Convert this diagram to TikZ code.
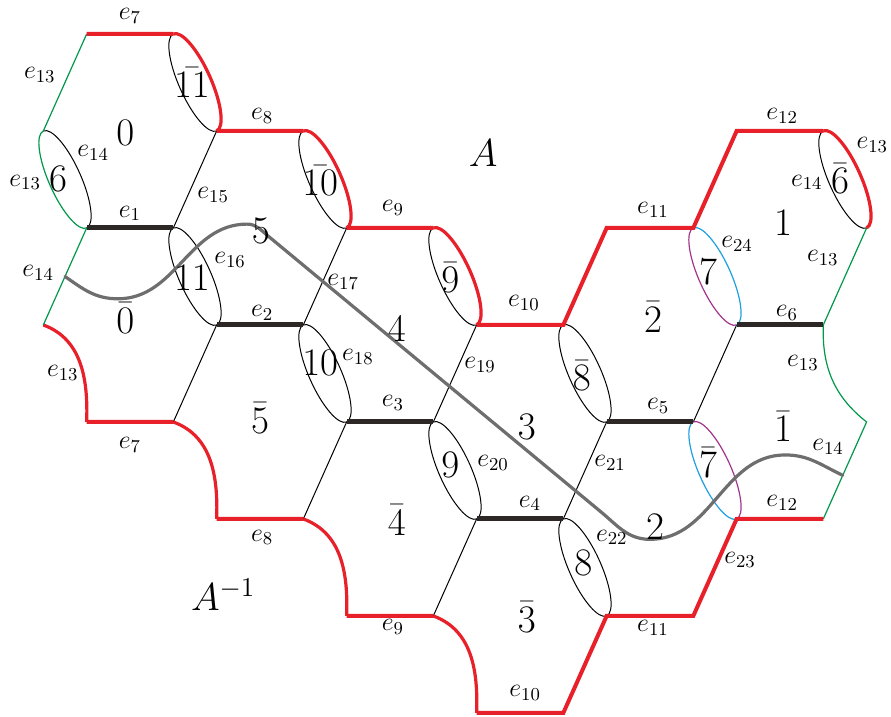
\documentclass[tikz,border=0pt]{standalone}
\usepackage{fix-cm}
\usetikzlibrary{calc}
\definecolor{Rojo}{HTML}{E8202A}
\definecolor{Verde}{HTML}{00984A}
\definecolor{Celeste}{HTML}{1EA0E1}
\definecolor{Morado}{HTML}{A3348C}
\definecolor{Tinta}{HTML}{2D2826}
\definecolor{Gris}{HTML}{6E6E6E}
\newcommand{\loopedge}[4]{%
  \coordinate (lu) at (#1); \coordinate (ll) at (#2);
  \coordinate (lm) at ($(lu)!.5!(ll)$);
  \draw[#3,rotate around={-65.93:(lm)}] (lu) arc[start angle=180,end angle=360,x radius=26.56pt,y radius=8pt];
  \draw[#4,rotate around={-65.93:(lm)}] (lu) arc[start angle=180,end angle=0,x radius=26.56pt,y radius=8pt];}

\begin{document}
\begin{tikzpicture}[x=21.667pt,y=-48.5pt,every node/.style={inner sep=1pt},
  face/.style={font=\fontsize{19.5}{23}\selectfont},
  elab/.style={font=\fontsize{13}{15}\selectfont},
  hair/.style={black,line width=.5pt},
  redline/.style={Rojo,line width=2pt},
  redcurve/.style={Rojo,line width=1.6pt},
  boldline/.style={Tinta,line width=2.5pt},
  greenline/.style={Verde,line width=.6pt},
  blueline/.style={Celeste,line width=.6pt},
  purpleline/.style={Morado,line width=.6pt},
  walk/.style={Gris,line width=1.6pt,line cap=round}]
\useasboundingbox (0,-0.3505) rectangle (20.563,7.0412);

\draw[hair] (5,1)--(4,2) (8,2)--(7,3) (11,3)--(10,4) (14,4)--(13,5) (17,3)--(16,4) (5,3)--(4,4) (8,4)--(7,5) (11,5)--(10,6);

\loopedge{4,0}{5,1}{hair}{redcurve}
\loopedge{1,1}{2,2}{greenline}{hair}
\loopedge{4,2}{5,3}{hair}{hair}
\loopedge{7,1}{8,2}{hair}{redcurve}
\loopedge{7,3}{8,4}{hair}{hair}
\loopedge{10,2}{11,3}{hair}{redcurve}
\loopedge{10,4}{11,5}{hair}{hair}
\loopedge{13,3}{14,4}{hair}{hair}
\loopedge{13,5}{14,6}{hair}{hair}
\loopedge{16,2}{17,3}{purpleline}{blueline}
\loopedge{16,4}{17,5}{blueline}{purpleline}
\loopedge{19,1}{20,2}{hair}{redcurve}

\draw[redcurve] (1,3) to[out=-20,in=88] (2,4) (4,4) to[out=-20,in=88] (5,5) (7,5) to[out=-20,in=88] (8,6) (10,6) to[out=-20,in=88] (11,7);
\draw[greenline] (1,1)--(2,0) (1,3)--(2,2) (20,2)--(19,3) to[out=-92,in=142] (20,4)--(19,5);
\draw[redline] (2,0)--(4,0) (5,1)--(7,1) (8,2)--(10,2) (11,3)--(13,3)--(14,2)--(16,2)--(17,1)--(19,1);
\draw[redline] (2,4)--(4,4) (5,5)--(7,5) (8,6)--(10,6) (11,7)--(13,7)--(14,6)--(16,6)--(17,5)--(19,5);
\draw[boldline] (2,2)--(4,2) (5,3)--(7,3) (8,4)--(10,4) (11,5)--(13,5) (14,4)--(16,4) (17,3)--(19,3);

\draw[walk] ($(1,3)!.5!(2,2)$) to[out=-35,in=180] (2.72,2.73) to[out=0,in=180] (5.70,1.96) to[out=0,in=140.65] (6.185,2.082) -- (13.85,4.92) to[out=-39.35,in=180] (15.0,5.21) to[out=0,in=180] (18.12,4.34) to[out=0,in=155] ($(20,4)!.55!(19,5)$);

\node[face] (n0) at (2.89,1.02) {$0$};
\node[face] (n11b) at (4.43,0.50) {$\bar{11}$};
\node[face] (n6) at (1.34,1.49) {$6$};
\node[face] (n5) at (6.02,2.03) {$5$};
\node[face] (n11) at (4.43,2.51) {$11$};
\node[face] (n0b) at (2.89,2.93) {$\bar{0}$};
\node[face] (n10b) at (7.39,1.51) {$\bar{10}$};
\node[face] (n4) at (9.16,3.04) {$4$};
\node[face] (n9b) at (10.39,2.51) {$\bar{9}$};
\node[face] (n10) at (7.39,3.39) {$10$};
\node[face] (n8b) at (13.43,3.52) {$\bar{8}$};
\node[face] (n3) at (12.16,4.05) {$3$};
\node[face] (n9) at (10.39,4.44) {$9$};
\node[face] (n4b) at (9.16,5.01) {$\bar{4}$};
\node[face] (n8) at (13.46,5.45) {$8$};
\node[face] (n3b) at (12.16,6.01) {$\bar{3}$};
\node[face] (n7b) at (16.34,4.42) {$\bar{7}$};
\node[face] (n1b) at (18.07,4.05) {$\bar{1}$};
\node[face] (n2) at (15.12,5.08) {$2$};
\node[face] (n6b) at (19.39,1.49) {$\bar{6}$};
\node[face] (n1) at (18.07,1.95) {$1$};
\node[face] (n7) at (16.34,2.45) {$7$};
\node[face] (n2b) at (15.07,2.92) {$\bar{2}$};
\node[face] (n5b) at (6.00,3.96) {$\bar{5}$};
\node[face] (nA) at (11.15,1.23) {$A$};
\node[face] (nAi) at (5.15,5.78) {$A^{-1}$};

\node[elab] (l7a) at (3.00,-0.19) {$e_7$};
\node[elab] (l13a) at (0.92,0.42) {$e_{13}$};
\node[elab] (l14a) at (2.15,1.23) {$e_{14}$};
\node[elab] (l13b) at (0.58,1.53) {$e_{13}$};
\node[elab] (l8a) at (6.05,0.84) {$e_8$};
\node[elab] (l15) at (4.92,1.66) {$e_{15}$};
\node[elab] (l1) at (3.00,1.85) {$e_1$};
\node[elab] (l14b) at (0.88,2.46) {$e_{14}$};
\node[elab] (l16) at (5.31,2.33) {$e_{16}$};
\node[elab] (l13c) at (1.45,3.49) {$e_{13}$};
\node[elab] (l2) at (6.05,2.88) {$e_2$};
\node[elab] (l9a) at (9.07,1.79) {$e_9$};
\node[elab] (l17) at (7.92,2.56) {$e_{17}$};
\node[elab] (l10a) at (12.09,2.77) {$e_{10}$};
\node[elab] (l18) at (8.26,3.33) {$e_{18}$};
\node[elab] (l19) at (11.08,3.41) {$e_{19}$};
\node[elab] (l3) at (9.07,3.80) {$e_3$};
\node[elab] (l20) at (11.38,4.42) {$e_{20}$};
\node[elab] (l21) at (14.08,4.42) {$e_{21}$};
\node[elab] (l4) at (12.23,4.84) {$e_4$};
\node[elab] (l22) at (14.12,5.19) {$e_{22}$};
\node[elab] (l9b) at (9.07,6.11) {$e_9$};
\node[elab] (l10b) at (12.12,6.79) {$e_{10}$};
\node[elab] (l5) at (15.19,3.83) {$e_5$};
\node[elab] (l14c) at (19.11,4.26) {$e_{14}$};
\node[elab] (l12b) at (18.05,4.83) {$e_{12}$};
\node[elab] (l13d) at (18.53,3.39) {$e_{13}$};
\node[elab] (l23) at (17.08,5.42) {$e_{23}$};
\node[elab] (l11b) at (15.07,6.12) {$e_{11}$};
\node[elab] (l11a) at (15.07,1.81) {$e_{11}$};
\node[elab] (l12a) at (18.05,0.84) {$e_{12}$};
\node[elab] (l13e) at (20.13,1.14) {$e_{13}$};
\node[elab] (l14d) at (18.62,1.53) {$e_{14}$};
\node[elab] (l24) at (17.01,2.16) {$e_{24}$};
\node[elab] (l13f) at (18.99,2.31) {$e_{13}$};
\node[elab] (l6) at (18.16,2.88) {$e_6$};
\node[elab] (l7b) at (3.00,4.24) {$e_7$};
\node[elab] (l8b) at (6.05,5.19) {$e_8$};
\end{tikzpicture}
\end{document}
